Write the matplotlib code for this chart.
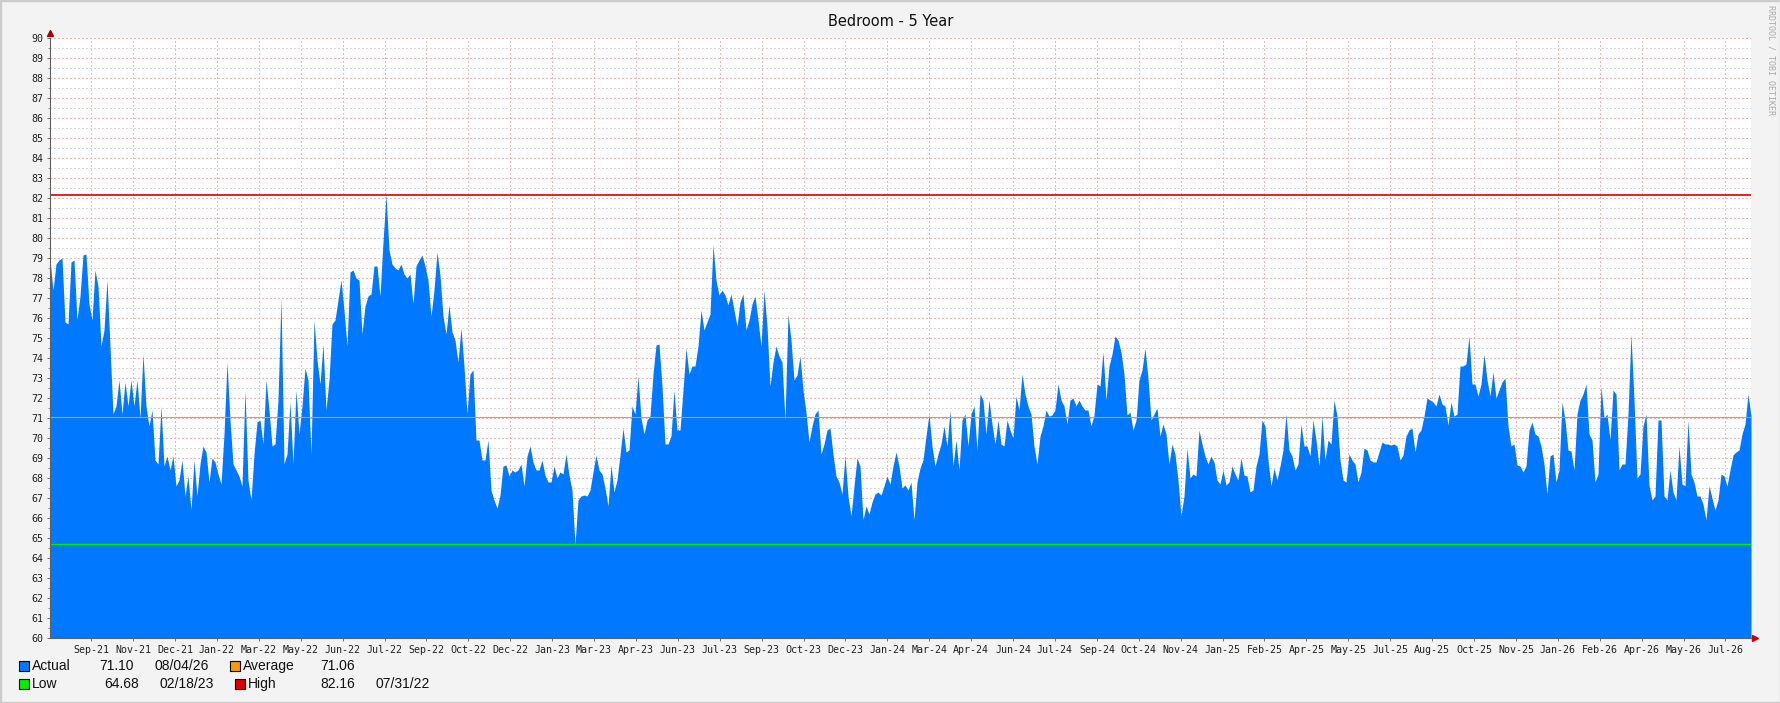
import numpy as np
import matplotlib.pyplot as plt
from matplotlib.patches import Rectangle

# RRDtool style 5 year temperature graph
W, H = 1781, 703

# readings (deg F), evenly spaced from 08/04/21 to 08/04/26
temps_aug21 = [78.9, 77.4, 78.7, 78.9, 79.0, 75.8, 75.7, 78.8, 78.9, 75.9, 77.1, 79.15, 79.2, 76.7,
               75.9, 78.4, 77.6, 74.6, 75.4, 77.9, 74.6, 71.2, 71.6, 72.9, 71.2, 72.8, 71.6, 72.9,
               71.6, 72.9, 71.0, 74.2, 71.6, 70.6, 71.4, 68.9, 68.7, 71.6, 68.6, 69.1, 68.4, 69.1,
               67.6, 67.9, 68.9, 67.1, 68.1, 66.4, 68.9, 67.1, 68.7, 69.6, 69.3, 67.8, 69.0, 68.8,
               68.2, 67.7, 70.2, 73.8, 70.9, 68.7, 68.4, 68.1, 67.6, 72.4, 67.9, 66.9, 69.2, 70.8]
temps_mar22 = [70.9, 69.7, 72.9, 71.4, 69.6, 69.7, 71.9, 77.0, 68.7, 69.2, 71.8, 68.7, 72.4, 70.2,
               71.6, 73.5, 72.9, 69.2, 75.9, 73.9, 72.7, 74.7, 71.4, 72.9, 75.7, 75.9, 76.9, 77.9,
               76.4, 74.6, 78.3, 78.4, 78.0, 77.9, 75.2, 76.6, 77.1, 77.2, 78.6, 78.6, 77.1, 79.8,
               82.16, 79.4, 78.7, 78.5, 78.4, 78.7, 78.2, 78.0, 78.2, 76.7, 78.6, 78.9, 79.15, 78.6,
               77.9, 76.1, 77.4, 79.3, 78.15, 76.1, 75.2, 76.65, 75.3, 74.9, 73.8, 75.5, 73.6, 71.2,
               73.2]
temps_nov22 = [73.4, 69.9, 69.9, 68.9, 68.9, 69.9, 67.4, 66.9, 66.5, 67.15, 68.6, 68.65, 68.1, 68.4,
               68.3, 68.4, 68.7, 67.6, 69.1, 69.6, 68.8, 68.4, 68.4, 68.9, 68.15, 67.8, 67.8, 68.6,
               68.0, 68.3, 68.2, 69.2, 68.15, 67.4, 64.68, 66.9, 67.1, 67.15, 67.1, 67.4, 68.3, 69.15,
               68.4, 68.2, 67.5, 66.6, 68.65, 67.3, 67.9, 69.15, 70.5, 69.3, 69.4, 71.6, 71.2, 73.1,
               71.0, 70.2, 70.9, 71.1, 73.2, 74.65, 74.7, 72.6, 69.7, 69.7, 70.1, 72.4, 70.4, 70.4,
               72.4]
temps_jul23 = [74.5, 73.2, 73.6, 73.6, 74.6, 76.4, 75.4, 75.8, 76.2, 79.65, 77.9, 77.15, 77.4, 77.15,
               76.65, 77.2, 76.4, 75.6, 76.8, 77.2, 75.4, 75.9, 76.7, 77.1, 75.9, 74.6, 77.4, 75.6,
               72.6, 73.8, 74.6, 74.1, 73.8, 70.9, 76.2, 74.9, 72.9, 73.15, 74.1, 72.4, 71.3, 69.8,
               70.6, 71.2, 71.4, 69.2, 69.7, 70.4, 70.5, 69.2, 68.1, 67.8, 67.2, 69.1, 67.1, 66.1,
               67.6, 69.0, 68.6, 65.9, 66.6, 66.2, 66.8, 67.2, 67.3, 67.15, 67.6, 68.1, 67.7, 68.6,
               69.3]
temps_feb24 = [68.6, 67.5, 67.65, 67.4, 67.8, 65.9, 67.8, 68.5, 68.9, 70.1, 71.2, 69.6, 68.6, 69.2,
               69.7, 70.6, 69.6, 71.4, 68.6, 69.9, 68.4, 70.9, 71.2, 69.6, 71.2, 71.6, 69.4, 72.2,
               71.9, 70.2, 71.9, 70.7, 69.7, 70.9, 69.7, 69.6, 70.9, 70.4, 70.0, 72.1, 71.4, 73.2,
               72.2, 71.6, 71.2, 69.6, 68.7, 70.1, 70.6, 71.4, 71.1, 71.15, 71.4, 72.7, 71.9, 71.6,
               70.7, 71.9, 72.0, 71.6, 71.9, 71.6, 71.4, 71.4, 70.6, 71.15, 72.7, 72.6, 74.3, 71.9,
               73.6]
temps_sep24 = [74.2, 75.1, 74.9, 74.3, 73.2, 71.15, 71.3, 70.4, 70.9, 72.9, 73.4, 74.5, 73.0, 70.9,
               71.2, 71.5, 70.1, 70.7, 70.2, 68.7, 69.7, 69.2, 67.9, 66.1, 67.1, 69.5, 68.0, 68.2,
               68.1, 70.4, 69.7, 69.1, 68.7, 69.1, 68.8, 67.9, 67.7, 68.4, 67.65, 67.8, 68.6, 68.2,
               67.9, 69.0, 68.15, 68.1, 67.3, 67.4, 68.6, 69.2, 70.9, 70.6, 68.9, 67.6, 68.5, 67.9,
               68.6, 69.4, 71.2, 69.4, 69.1, 68.4, 68.7, 70.7, 69.6, 69.6, 69.1, 70.9, 69.9, 68.6,
               71.1]
temps_may25 = [68.9, 69.9, 69.7, 71.9, 71.1, 68.9, 67.9, 67.8, 69.2, 68.9, 68.7, 67.8, 68.3, 69.5,
               69.4, 68.9, 68.8, 68.8, 69.3, 69.8, 69.7, 69.7, 69.65, 69.7, 69.6, 68.9, 69.15, 70.1,
               70.4, 70.5, 69.3, 70.2, 70.4, 71.1, 72.0, 71.9, 71.8, 71.6, 72.2, 71.7, 71.6, 70.65,
               71.8, 71.1, 71.2, 73.6, 73.6, 73.7, 75.1, 72.7, 72.7, 72.1, 72.7, 74.2, 72.9, 72.1,
               73.3, 72.0, 72.4, 72.8, 73.0, 70.6, 69.6, 69.7, 68.65, 68.6, 68.3, 68.6, 70.4, 70.8,
               70.2]
temps_dec25 = [70.1, 69.6, 68.7, 67.2, 69.1, 69.2, 67.8, 68.4, 71.8, 70.9, 69.4, 69.35, 68.4, 71.2,
               71.9, 72.2, 72.7, 70.2, 69.9, 67.8, 68.2, 72.6, 71.0, 71.2, 69.9, 72.4, 72.2, 68.4,
               68.7, 68.7, 71.2, 75.2, 71.9, 68.0, 68.2, 70.6, 71.2, 67.65, 66.9, 67.1, 70.9, 70.9,
               67.1, 66.9, 68.4, 67.3, 66.9, 69.6, 67.7, 67.6, 70.9, 68.2, 67.8, 67.1, 67.1, 66.7,
               65.9, 67.6, 67.0, 66.4, 66.9, 68.2, 68.1, 67.6, 68.4, 69.15, 69.3, 69.4, 70.2, 70.7,
               72.2, 71.1]

temps = np.array(temps_aug21 + temps_mar22 + temps_nov22 + temps_jul23 +
                 temps_feb24 + temps_sep24 + temps_may25 + temps_dec25)

total_days = 1826
first_tick_day = 44.3
tick_step_days = 44.98
tick_labels = ['Sep-21', 'Nov-21', 'Dec-21', 'Jan-22', 'Mar-22', 'May-22', 'Jun-22', 'Jul-22',
               'Sep-22', 'Oct-22', 'Dec-22', 'Jan-23', 'Mar-23', 'Apr-23', 'Jun-23', 'Jul-23',
               'Sep-23', 'Oct-23', 'Dec-23', 'Jan-24', 'Mar-24', 'Apr-24', 'Jun-24', 'Jul-24',
               'Sep-24', 'Oct-24', 'Nov-24', 'Jan-25', 'Feb-25', 'Apr-25', 'May-25', 'Jul-25',
               'Aug-25', 'Oct-25', 'Nov-25', 'Jan-26', 'Feb-26', 'Apr-26', 'May-26', 'Jul-26']

actual_val, actual_date = 71.10, '08/04/26'
average_val = 71.06
low_val, low_date = 64.68, '02/18/23'
high_val, high_date = 82.16, '07/31/22'

BLUE = '#0078ff'
ORANGE = '#ff9900'
GREEN = '#00ee00'
RED = '#dd0000'
MONO = 'DejaVu Sans Mono'


def fx(x):
    return x / W


def fy(y):
    return 1 - y / H


fig = plt.figure(figsize=(W / 100, H / 100), dpi=100, facecolor='#f3f3f3')
fig.patches.append(Rectangle((0, 0), 1, 1, transform=fig.transFigure, fill=False,
                             edgecolor='#cccccc', lw=2.5))

ax = fig.add_axes([fx(50), fy(638), 1701 / W, 600 / H])
ax.set_facecolor('white')

t = np.linspace(0, total_days, len(temps))
ax.fill_between(t, 60, temps, color=BLUE, lw=0, zorder=2)

ax.axhline(average_val, color=ORANGE, lw=0.8, zorder=3)
ax.axhline(low_val, color=GREEN, lw=1.0, zorder=3)
ax.axhline(high_val, color=RED, lw=1.2, zorder=3)

ax.set_xlim(0, total_days)
ax.set_ylim(60, 90)

ticks = first_tick_day + tick_step_days * np.arange(len(tick_labels))
ax.set_xticks(ticks)
ax.set_xticklabels(tick_labels, fontfamily=MONO, fontsize=7.2, color='#202020')
ax.set_yticks(np.arange(60, 91, 1))
ax.set_yticklabels([str(v) for v in range(60, 91)], fontfamily=MONO, fontsize=7.2,
                   color='#202020')
ax.set_yticks(np.arange(60.5, 90, 1), minor=True)

# dotted grid, kept behind the area so it only shows on the white part
ax.set_axisbelow(True)
ax.grid(which='major', color='#f3b4b4', ls=(0, (1, 2)), lw=0.75,
        antialiased=False, zorder=1)
ax.grid(which='minor', axis='y', color='#d9d9d9', ls=(0, (1, 2)), lw=0.75,
        antialiased=False, zorder=1)

ax.tick_params(axis='both', which='major', length=2, width=0.7, color='#707070', pad=3)
ax.tick_params(axis='y', which='minor', length=1.5, width=0.7, color='#909090')

for side in ['top', 'right']:
    ax.spines[side].set_visible(False)
for side in ['left', 'bottom']:
    ax.spines[side].set_color('#606060')
    ax.spines[side].set_linewidth(0.8)
    ax.spines[side].set_zorder(4)

# axis arrows
ax.plot([0], [1.008], marker='^', ms=4, color='#a00000', transform=ax.transAxes, clip_on=False)
ax.plot([1.0025], [0], marker='>', ms=4, color='#cc0000', transform=ax.transAxes, clip_on=False)

fig.text(0.5, fy(21), 'Bedroom - 5 Year', ha='center', va='center', fontsize=10.5,
         color='#101010')
fig.text(fx(1771), fy(60), 'RRDTOOL / TOBI OETIKER', rotation=270, ha='center', va='center',
         fontsize=6, fontfamily=MONO, color='#a8a8a8')

# legend
leg_font = dict(fontfamily='Liberation Sans', fontsize=10, color='#101010', va='center')


def swatch(x, y, color):
    fig.patches.append(Rectangle((fx(x), fy(y + 10)), 10 / W, 10 / H, transform=fig.transFigure,
                                 facecolor=color, edgecolor='black', lw=0.8))


swatch(19, 661, BLUE)
fig.text(fx(32), fy(666), 'Actual', **leg_font)
fig.text(fx(99), fy(666), '%.2f' % actual_val, **leg_font)
fig.text(fx(155), fy(666), actual_date, **leg_font)
swatch(230, 661, ORANGE)
fig.text(fx(243), fy(666), 'Average', **leg_font)
fig.text(fx(320), fy(666), '%.2f' % average_val, **leg_font)

swatch(19, 679, GREEN)
fig.text(fx(32), fy(684), 'Low', **leg_font)
fig.text(fx(104), fy(684), '%.2f' % low_val, **leg_font)
fig.text(fx(160), fy(684), low_date, **leg_font)
swatch(235, 679, RED)
fig.text(fx(248), fy(684), 'High', **leg_font)
fig.text(fx(320), fy(684), '%.2f' % high_val, **leg_font)
fig.text(fx(376), fy(684), high_date, **leg_font)

fig.savefig('out.png', dpi=100, facecolor=fig.get_facecolor())
